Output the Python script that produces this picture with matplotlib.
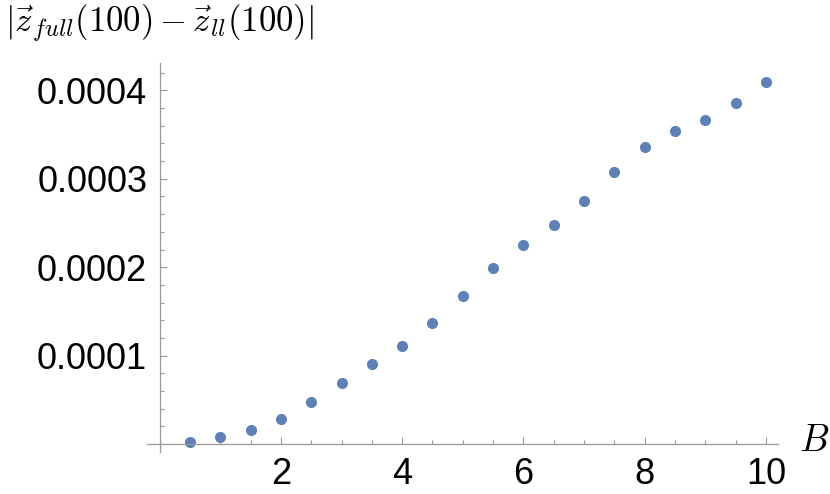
import matplotlib
matplotlib.use("Agg")
import matplotlib.pyplot as plt
from matplotlib.ticker import MultipleLocator, FixedLocator, FuncFormatter

# data
B = [0.5, 1.0, 1.5, 2.0, 2.5, 3.0, 3.5, 4.0, 4.5, 5.0,
     5.5, 6.0, 6.5, 7.0, 7.5, 8.0, 8.5, 9.0, 9.5, 10.0]
dz = [1.9e-6, 7.9e-6, 1.62e-5, 2.86e-5, 4.72e-5, 6.87e-5, 9.05e-5, 1.112e-4, 1.365e-4, 1.678e-4,
      1.994e-4, 2.251e-4, 2.477e-4, 2.749e-4, 3.077e-4, 3.363e-4, 3.541e-4, 3.665e-4, 3.854e-4, 4.095e-4]

xticks = [2, 4, 6, 8, 10]
yticks = [0.0001, 0.0002, 0.0003, 0.0004]

plt.rcParams['mathtext.fontset'] = 'cm'
W, H = 830, 494
fig = plt.figure(figsize=(W / 100, H / 100), dpi=100)
ax = fig.add_axes([147 / W, 1 - 452 / H, (778 - 147) / W, (452 - 63) / H])

ax.plot(B, dz, 'o', color='#5E81B5', ms=8, mec='none', clip_on=False)

ax.set_xlim(-0.21, 10.2)
ax.set_ylim(-0.09e-4, 4.31e-4)

for s in ['top', 'right']:
    ax.spines[s].set_visible(False)
for s in ['left', 'bottom']:
    ax.spines[s].set_position(('data', 0))
    ax.spines[s].set_color('#999999')
    ax.spines[s].set_linewidth(0.9)

ax.xaxis.set_major_locator(FixedLocator(xticks))
ax.xaxis.set_minor_locator(MultipleLocator(0.5))
ax.yaxis.set_major_locator(FixedLocator(yticks))
ax.yaxis.set_minor_locator(MultipleLocator(0.00002))
ax.yaxis.set_major_formatter(FuncFormatter(lambda v, p: f"{v:.4f}"))

ax.tick_params(which='both', direction='in', color='#999999', width=0.8)
ax.tick_params(which='major', length=5)
ax.tick_params(which='minor', length=3)
ax.tick_params(axis='both', which='major', labelsize=26, pad=9)
for lab in ax.get_xticklabels() + ax.get_yticklabels():
    lab.set_fontfamily('Liberation Sans')

fig.text(5 / W, 1 - 3 / H, r'$|\vec{z}_{full}(100)-\vec{z}_{ll}(100)|$',
         fontsize=25, ha='left', va='top')
fig.text(799 / W, 1 - 441 / H, r'$B$', fontsize=27, ha='left', va='center')

fig.savefig('out.png', dpi=100)
